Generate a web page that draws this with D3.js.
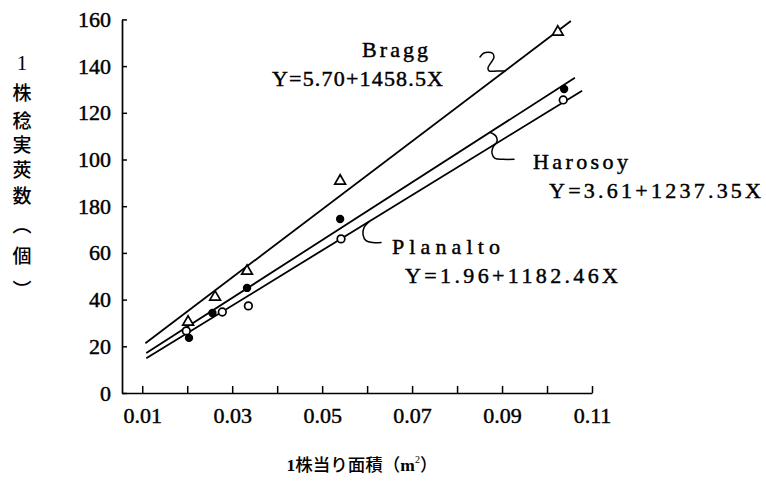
<!DOCTYPE html>
<html>
<head>
<meta charset="utf-8">
<script src="https://cdn.jsdelivr.net/npm/d3@7"></script>
<style>
  html, body { margin: 0; padding: 0; background: #fff; }
  svg { display: block; }
</style>
</head>
<body>
<svg id="chart" width="766" height="482"></svg>
<script>
// Plant area (m²) and pod counts per plant for three soybean varieties
const xTicks = [0.01, 0.02, 0.03, 0.04, 0.05, 0.06, 0.07, 0.08, 0.09, 0.10, 0.11];
const xTickLabels = ["0.01", "", "0.03", "", "0.05", "", "0.07", "", "0.09", "", "0.11"];
const yTicks = [0, 20, 40, 60, 80, 100, 120, 140, 160];
const yTickLabels = ["0", "20", "40", "60", "180", "100", "120", "140", "160"];

const braggX = [0.0202, 0.0262, 0.0333, 0.0540, 0.1024];
const braggY = [30.4, 41.1, 52.2, 90.8, 154.6];
const harosoyX = [0.0204, 0.0256, 0.0333, 0.0540, 0.1038];
const harosoyY = [23.6, 34.3, 45.0, 74.5, 130.2];
const planaltoX = [0.0198, 0.0278, 0.0336, 0.0542, 0.1036];
const planaltoY = [26.6, 34.7, 37.3, 66.0, 125.5];

// Regression lines: Y = a + bX, and the X span each line is drawn over
const braggFit = [5.70, 1458.5];
const harosoyFit = [3.61, 1237.35];
const planaltoFit = [1.96, 1182.46];
const braggSpan = [0.0107, 0.1053];
const harosoySpan = [0.0109, 0.1062];
const planaltoSpan = [0.0109, 0.1078];

const svg = d3.select("#chart");
svg.append("rect").attr("width", 766).attr("height", 482).attr("fill", "#fff");

const serif = "'Liberation Serif', 'DejaVu Serif', serif";
const cjk = "'Noto Sans CJK JP', 'Noto Sans CJK SC', sans-serif";

const x = d3.scaleLinear().domain([0.0055, 0.11]).range([122, 592]);
const y = d3.scaleLinear().domain([0, 160]).range([393, 19.4]);

// Axes
const xAxis = d3.axisBottom(x)
  .tickValues(xTicks)
  .tickFormat((d, i) => xTickLabels[i])
  .tickSizeInner(-7)
  .tickSizeOuter(0)
  .tickPadding(14);
const gx = svg.append("g").attr("transform", `translate(0,${y(0)})`).call(xAxis);

const yAxis = d3.axisLeft(y)
  .tickValues(yTicks)
  .tickFormat((d, i) => yTickLabels[i])
  .tickSizeInner(-5)
  .tickSizeOuter(0)
  .tickPadding(11);
const gy = svg.append("g").attr("transform", `translate(${x.range()[0]},0)`).call(yAxis);

[gx, gy].forEach(g => {
  g.select(".domain").attr("stroke", "#000").attr("stroke-width", 1.7);
  g.selectAll(".tick line").attr("stroke", "#000").attr("stroke-width", 1.5);
  g.selectAll(".tick text")
    .attr("fill", "#000")
    .attr("stroke", "#000")
    .attr("stroke-width", 0.45)
    .style("font-family", serif)
    .style("font-size", "22px");
});

// Regression lines
const fitLine = (fit, span) => {
  const pts = span.map(v => [x(v), y(fit[0] + fit[1] * v)]);
  return d3.line()(pts);
};
const lineSets = [
  [braggFit, braggSpan],
  [harosoyFit, harosoySpan],
  [planaltoFit, planaltoSpan]
];
svg.append("g").selectAll("path")
  .data(lineSets)
  .join("path")
  .attr("d", d => fitLine(d[0], d[1]))
  .attr("fill", "none")
  .attr("stroke", "#000")
  .attr("stroke-width", 1.8);

// Points
const zip = (xs, ys) => xs.map((v, i) => [v, ys[i]]);
const tri = d3.symbol().type(d3.symbolTriangle).size(50);
svg.append("g").selectAll("path")
  .data(zip(braggX, braggY))
  .join("path")
  .attr("d", tri)
  .attr("transform", d => `translate(${x(d[0])},${y(d[1])})`)
  .attr("fill", "#fff")
  .attr("stroke", "#000")
  .attr("stroke-width", 1.7);
svg.append("g").selectAll("circle")
  .data(zip(harosoyX, harosoyY))
  .join("circle")
  .attr("cx", d => x(d[0]))
  .attr("cy", d => y(d[1]))
  .attr("r", 4.2)
  .attr("fill", "#000");
svg.append("g").selectAll("circle")
  .data(zip(planaltoX, planaltoY))
  .join("circle")
  .attr("cx", d => x(d[0]))
  .attr("cy", d => y(d[1]))
  .attr("r", 3.8)
  .attr("fill", "#fff")
  .attr("stroke", "#000")
  .attr("stroke-width", 1.7);

// Leader strokes from each label to its line
const onLine = (fit, px) => {
  const v = x.invert(px);
  return [px, y(fit[0] + fit[1] * v)];
};
const leader = (anchor, offsets) =>
  d3.line().curve(d3.curveCatmullRom)(offsets.map(o => [anchor[0] + o[0], anchor[1] + o[1]]));
const leaders = [
  leader(onLine(braggFit, 505), [[-25, -14], [-21, -18], [-13, -18], [-11, -14], [-17, -3], [-16, 0], [-8, 0], [0, 0]]),
  leader(onLine(harosoyFit, 490), [[0, 0], [6, 4], [7, 9], [3, 15], [2, 21], [5, 26], [13, 27], [24, 27]]),
  leader(onLine(planaltoFit, 369), [[0, 0], [-5, 6], [-6, 13], [-3, 19], [4, 21], [12, 21]])
];
svg.append("g").selectAll("path")
  .data(leaders)
  .join("path")
  .attr("d", d => d)
  .attr("fill", "none")
  .attr("stroke", "#000")
  .attr("stroke-width", 1.5)
  .attr("stroke-linejoin", "round")
  .attr("stroke-linecap", "round");

// Variety names and fitted equations
const labels = [
  { t: "Bragg", x: 362, y: 57, w: 66 },
  { t: "Y=5.70+1458.5X", x: 272, y: 86, w: 171 },
  { t: "Harosoy", x: 533, y: 169, w: 95 },
  { t: "Y=3.61+1237.35X", x: 549, y: 198, w: 212 },
  { t: "Planalto", x: 392, y: 254, w: 108 },
  { t: "Y=1.96+1182.46X", x: 405, y: 283, w: 213 }
];
svg.append("g").selectAll("text")
  .data(labels)
  .join("text")
  .attr("x", d => d.x)
  .attr("y", d => d.y)
  .attr("textLength", d => d.w)
  .attr("lengthAdjust", "spacing")
  .attr("fill", "#000")
  .attr("stroke", "#000")
  .attr("stroke-width", 0.45)
  .style("font-family", serif)
  .style("font-size", "22px")
  .text(d => d.t);

// Vertical y-axis title, one glyph per line
const yTitle = [
  { c: "1", y: 63, f: serif, s: 21 },
  { c: "株", y: 91.5, f: cjk, s: 19 },
  { c: "稔", y: 119, f: cjk, s: 19 },
  { c: "実", y: 143.5, f: cjk, s: 19 },
  { c: "莢", y: 168.5, f: cjk, s: 19 },
  { c: "数", y: 194, f: cjk, s: 19 },
  { c: "︵", y: 223, f: cjk, s: 19 },
  { c: "個", y: 254, f: cjk, s: 19 },
  { c: "︶", y: 288, f: cjk, s: 19 }
];
svg.append("g").selectAll("text")
  .data(yTitle)
  .join("text")
  .attr("x", 22)
  .attr("y", d => d.y)
  .attr("text-anchor", "middle")
  .attr("dominant-baseline", "central")
  .attr("fill", "#000")
  .style("font-family", d => d.f)
  .style("font-size", d => d.s + "px")
  .style("font-weight", 500)
  .text(d => d.c);

// X-axis title
const xt = svg.append("text")
  .attr("x", 362)
  .attr("y", 471)
  .attr("text-anchor", "middle")
  .attr("fill", "#000")
  .style("font-size", "17.5px");
xt.append("tspan").style("font-family", serif).style("font-weight", "bold").text("1");
xt.append("tspan").style("font-family", cjk).style("font-weight", 500).text("株当り面積（");
xt.append("tspan").style("font-family", serif).style("font-weight", "bold").text("m");
xt.append("tspan").style("font-family", serif).style("font-size", "10px").attr("dy", -8).text("2");
xt.append("tspan").style("font-family", cjk).style("font-weight", 500).attr("dy", 8).text("）");
</script>
</body>
</html>
